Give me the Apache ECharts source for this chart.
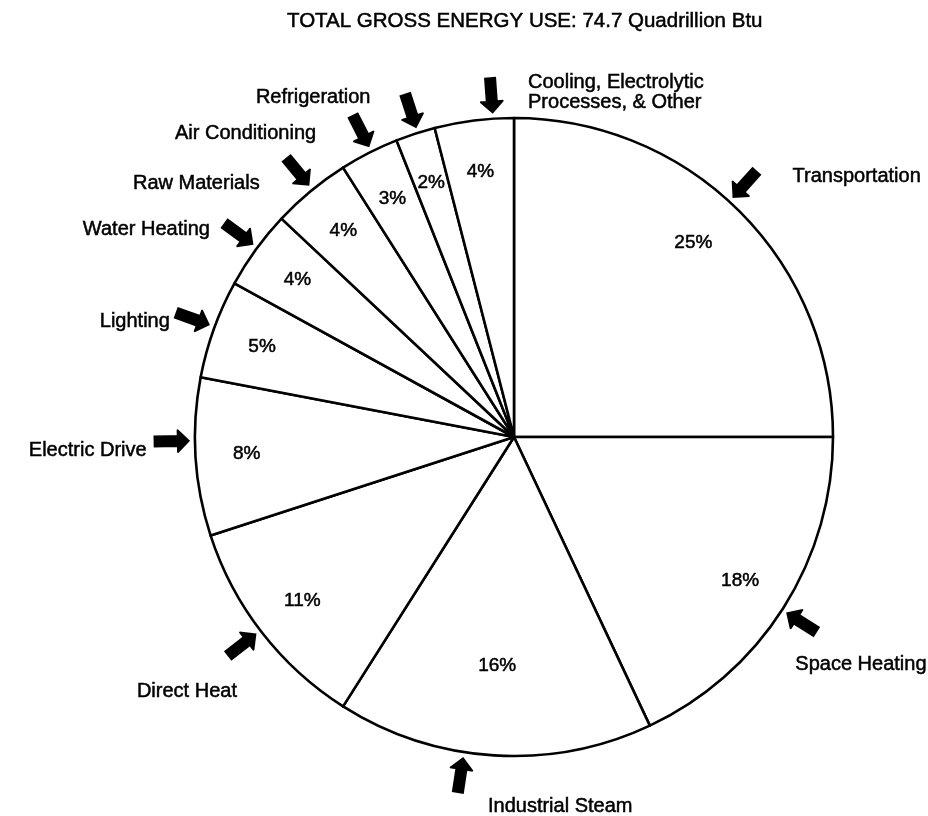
<!DOCTYPE html>
<html>
<head>
<meta charset="utf-8">
<script src="https://cdn.jsdelivr.net/npm/echarts@6/dist/echarts.min.js"></script>
<style>html,body{margin:0;padding:0;background:#fff}#c{width:928px;height:816px}</style>
</head>
<body>
<div id="c"></div>
<script>
// ---- data ----
const categories = ['Transportation', 'Space Heating', 'Industrial Steam', 'Direct Heat', 'Electric Drive',
  'Lighting', 'Water Heating', 'Raw Materials', 'Air Conditioning', 'Refrigeration',
  'Cooling, Electrolytic\nProcesses, & Other'];
const shares = [25, 18, 16, 11, 8, 5, 4, 4, 3, 2, 4];
const titleText = 'TOTAL GROSS ENERGY USE: 74.7 Quadrillion Btu';

// ---- layout ----
const CX = 514, CY = 437, R = 319;
const FONT = '"Liberation Sans", Arial, Helvetica, sans-serif';
const nameOffset = [[53, -35], [12, 57], [-6, 51], [-25, 59], [-49, -7], [-44, -7], [-46, -20], [-51, -8], [-53, -19], [-45, -36], [54, -28]];
const nameAlign = ['left', 'left', 'left', 'right', 'right', 'right', 'right', 'right', 'right', 'right', 'left'];
const arrowGap = 24;
const arrowShift = [-3, 0, 5, 0, 2.5, 0, 0, 0, 0, 0, 3];   // degrees, visual nudge of each arrow
const pctNudge = {0: [-10, -5], 2: [0, -38]};

const total = shares.reduce((a, b) => a + b, 0);
const midDeg = [];
let acc = 0;
shares.forEach(v => { midDeg.push((acc + v / 2) / total * 360); acc += v; });
function edge(i, r, shift) {
  const a = (midDeg[i] + (shift || 0)) * Math.PI / 180;
  return [CX + r * Math.sin(a), CY - r * Math.cos(a), Math.sin(a), -Math.cos(a)];
}

const data = categories.map((n, i) => ({name: n, value: shares[i]}));
const clear = {color: 'rgba(0,0,0,0)', borderWidth: 0};
const base = {
  type: 'pie', center: [CX, CY], startAngle: 90, clockwise: true, silent: true,
  animation: false, data: data, emphasis: {disabled: true}, labelLine: {show: false},
  avoidLabelOverlap: false
};
const ink = {color: '#000', fontFamily: FONT, textBorderColor: '#000', textBorderWidth: 0.5};

const chart = echarts.init(document.getElementById('c'), null, {renderer: 'canvas'});
chart.setOption({
  backgroundColor: '#ffffff',
  animation: false,
  title: {
    text: titleText, left: 282, top: 6,
    textStyle: Object.assign({fontSize: 20.5, fontWeight: 'normal'}, ink)
  },
  series: [
    Object.assign({}, base, {
      radius: R,
      itemStyle: {color: '#ffffff', borderColor: '#000', borderWidth: 2.6},
      label: {show: false}
    }),
    Object.assign({}, base, {
      radius: [0.76 * R, 0.90 * R],
      itemStyle: clear,
      label: Object.assign({show: true, position: 'inside', formatter: '{c}%', fontSize: 19}, ink),
      labelLayout: p => { const n = pctNudge[p.dataIndex]; return n ? {dx: n[0], dy: n[1]} : {}; }
    }),
    Object.assign({}, base, {
      radius: R,
      itemStyle: clear,
      label: {show: true, position: 'inside', formatter: '\u27A1', fontSize: 46, color: '#000',
        fontFamily: '"DejaVu Sans", sans-serif', textBorderColor: '#000', textBorderWidth: 1.5},
      labelLayout: p => {
        const e = edge(p.dataIndex, R + arrowGap, arrowShift[p.dataIndex]);
        return {x: e[0], y: e[1], rotate: Math.atan2(e[3], -e[2]) * 180 / Math.PI, align: 'center', verticalAlign: 'middle'};
      }
    }),
    Object.assign({}, base, {
      radius: R,
      itemStyle: clear,
      label: Object.assign({show: true, position: 'inside', formatter: '{b}', fontSize: 20, lineHeight: 20}, ink),
      labelLayout: p => {
        const i = p.dataIndex, e = edge(i, R), o = nameOffset[i];
        return {x: e[0] + o[0], y: e[1] + o[1], align: nameAlign[i], verticalAlign: 'middle'};
      }
    })
  ]
});
</script>
</body>
</html>
